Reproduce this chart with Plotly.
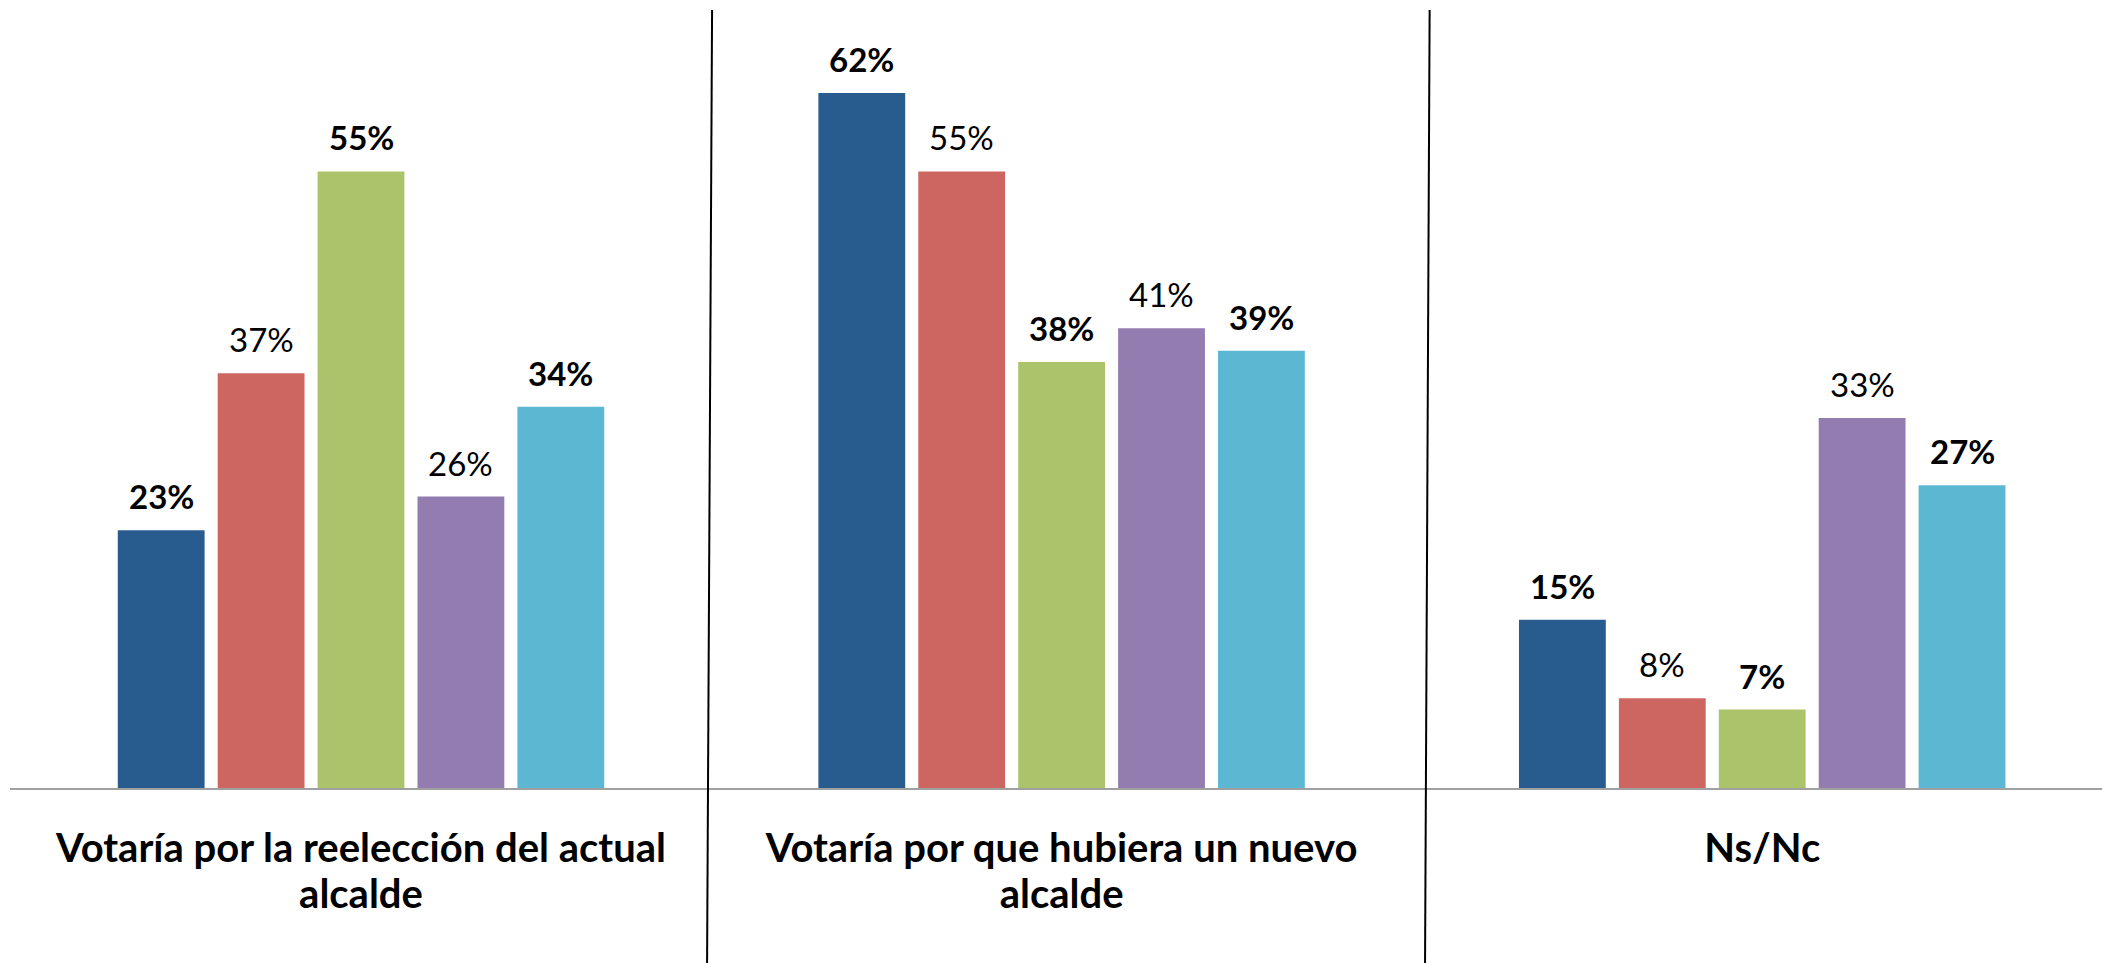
import plotly.graph_objects as go

categories = [
    "Votaría por la reelección del actual<br>alcalde",
    "Votaría por que hubiera un nuevo<br>alcalde",
    "Ns/Nc",
]
series_names = ["Serie 1", "Serie 2", "Serie 3", "Serie 4", "Serie 5"]
series_values = [
    [23, 62, 15],
    [37, 55, 8],
    [55, 38, 7],
    [26, 41, 33],
    [34, 39, 27],
]
series_colors = ["#285C8E", "#CD6660", "#ABC46C", "#937CB0", "#5CB8D2"]
label_bold = [True, False, True, False, True]

FONT = "Lato, sans-serif"

BARGAP = 0.287
BARGROUPGAP = 0.131
pitch = (1 - BARGAP) / len(series_values)

fig = go.Figure()
for name, vals, col in zip(series_names, series_values, series_colors):
    fig.add_trace(go.Bar(
        x=categories, y=vals, name=name,
        marker=dict(color=col, line=dict(width=0)),
        showlegend=False, hoverinfo="x+y",
    ))

annotations = []
for s, (vals, bold) in enumerate(zip(series_values, label_bold)):
    for g, v in enumerate(vals):
        txt = f"{v}%"
        if bold:
            txt = f"<b>{txt}</b>"
        annotations.append(dict(
            x=g + (s - (len(series_values) - 1) / 2) * pitch, y=v,
            xref="x", yref="y", text=txt, showarrow=False,
            yanchor="bottom", xanchor="center", yshift=12,
            font=dict(family=FONT, size=33, color="#000000"),
        ))

shapes = [
    dict(type="line", xref="paper", yref="paper", x0=0.3356, y0=1.0, x1=0.3332, y1=-0.23,
         line=dict(color="#000000", width=2)),
    dict(type="line", xref="paper", yref="paper", x0=0.6786, y0=1.0, x1=0.6764, y1=-0.23,
         line=dict(color="#000000", width=2)),
]

ticktext = [
    "<br>".join(f'<span style="font-size:40px">{line}</span>' for line in c.split("<br>"))
    for c in categories
]

fig.update_layout(
    width=2102, height=963,
    margin=dict(l=10, r=0, t=10, b=175),
    paper_bgcolor="white", plot_bgcolor="white",
    barmode="group", bargap=BARGAP, bargroupgap=BARGROUPGAP,
    annotations=annotations, shapes=shapes,
    font=dict(family=FONT, color="#000000"),
    xaxis=dict(
        range=[-0.501, 2.485], showgrid=False, zeroline=False,
        showline=True, linecolor="#A0A0A0", linewidth=2,
        ticks="outside", ticklen=30, tickcolor="rgba(0,0,0,0)",
        tickmode="array", tickvals=categories, ticktext=ticktext,
        tickfont=dict(family=FONT, size=35, color="#000000", weight="bold"),
        tickangle=0,
    ),
    yaxis=dict(range=[0, 69.4], visible=False, showgrid=False, zeroline=False),
)

fig.write_html("out.html", config={"displayModeBar": False},
               post_script="document.body.style.margin='0px';")
